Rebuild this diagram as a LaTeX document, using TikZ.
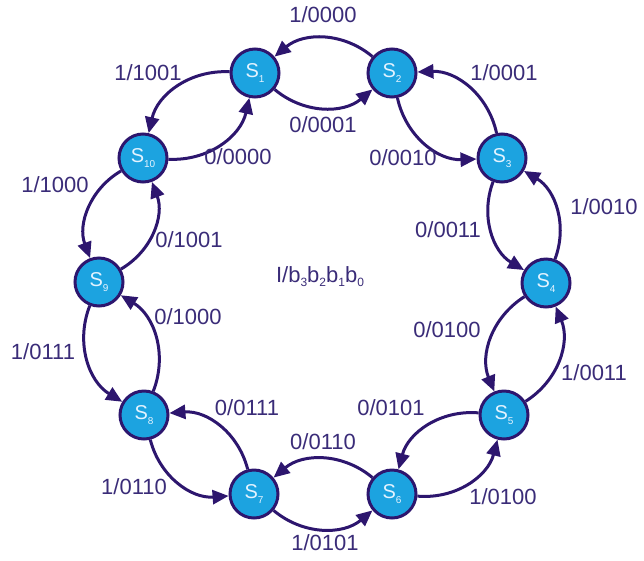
\documentclass[tikz,border=0pt]{standalone}
\usepackage{fontspec}
\setmainfont{Liberation Sans}
\usetikzlibrary{arrows.meta}
\definecolor{edgec}{RGB}{45,22,110}
\definecolor{textc}{RGB}{58,44,120}
\definecolor{fillc}{RGB}{28,163,224}
\definecolor{ntext}{RGB}{228,243,255}
\newcommand{\stname}[1]{S\raisebox{-5pt}{\fontsize{10}{10}\selectfont #1}}
\newcommand{\sbs}[1]{\raisebox{-4pt}{\fontsize{12}{12}\selectfont #1}}
\begin{document}
\begin{tikzpicture}[x=1pt,y=1pt,
  state/.style={circle, draw=edgec, line width=3pt, fill=fillc, minimum size=48pt, inner sep=0pt, text=ntext, font=\fontsize{20}{22}\selectfont},
  lbl/.style={text=textc, font=\fontsize{22}{25}\selectfont, inner sep=0pt},
  tr/.style={draw=edgec, line width=3pt, -{Triangle[length=16pt,width=14pt]}, bend right=40}]
\useasboundingbox (0,0) rectangle (644,-560);
\node[state] (s1)  at (255,-73)  {\stname{1}};
\node[state] (s2)  at (392,-73)  {\stname{2}};
\node[state] (s3)  at (502,-158) {\stname{3}};
\node[state] (s4)  at (546,-283) {\stname{4}};
\node[state] (s5)  at (504,-415) {\stname{5}};
\node[state] (s6)  at (392,-494) {\stname{6}};
\node[state] (s7)  at (254,-494) {\stname{7}};
\node[state] (s8)  at (144,-415) {\stname{8}};
\node[state] (s9)  at (99,-282)  {\stname{9}};
\node[state] (s10) at (143,-158) {\stname{10}};
% inner (input 0) transitions
\draw[tr] (s1) to (s2);
\draw[tr] (s2) to (s3);
\draw[tr] (s3) to (s4);
\draw[tr] (s4) to (s5);
\draw[tr] (s5) to (s6);
\draw[tr] (s6) to (s7);
\draw[tr] (s7) to (s8);
\draw[tr] (s8) to (s9);
\draw[tr] (s9) to (s10);
\draw[tr] (s10) to (s1);
% outer (input 1) transitions
\draw[tr] (s2) to (s1);
\draw[tr] (s3) to (s2);
\draw[tr] (s4) to (s3);
\draw[tr] (s5) to (s4);
\draw[tr] (s6) to (s5);
\draw[tr] (s7) to (s6);
\draw[tr] (s8) to (s7);
\draw[tr] (s9) to (s8);
\draw[tr] (s10) to (s9);
\draw[tr] (s1) to (s10);
% labels
\node[lbl] (l1)  at (323,-15)  {1/0000};
\node[lbl] (l2)  at (323,-125) {0/0001};
\node[lbl] (l3)  at (148,-73)  {1/1001};
\node[lbl] (l4)  at (504,-73)  {1/0001};
\node[lbl] (l5)  at (238,-157) {0/0000};
\node[lbl] (l6)  at (403,-158) {0/0010};
\node[lbl] (l7)  at (55,-185)  {1/1000};
\node[lbl] (l8)  at (604,-207) {1/0010};
\node[lbl] (l9)  at (448,-230) {0/0011};
\node[lbl] (l10) at (189,-240) {0/1001};
\node[lbl] (l11) at (188,-317) {0/1000};
\node[lbl] (l12) at (447,-330) {0/0100};
\node[lbl] (l13) at (43,-352)  {1/0111};
\node[lbl] (l14) at (594,-373) {1/0011};
\node[lbl] (l15) at (247,-408) {0/0111};
\node[lbl] (l16) at (391,-408) {0/0101};
\node[lbl] (l17) at (323,-442) {0/0110};
\node[lbl] (l18) at (134,-487) {1/0110};
\node[lbl] (l19) at (503,-497) {1/0100};
\node[lbl] (l20) at (325,-543) {1/0101};
\node[lbl] (ctr) at (320,-277) {I/b\sbs{3}b\sbs{2}b\sbs{1}b\sbs{0}};
\end{tikzpicture}
\end{document}
